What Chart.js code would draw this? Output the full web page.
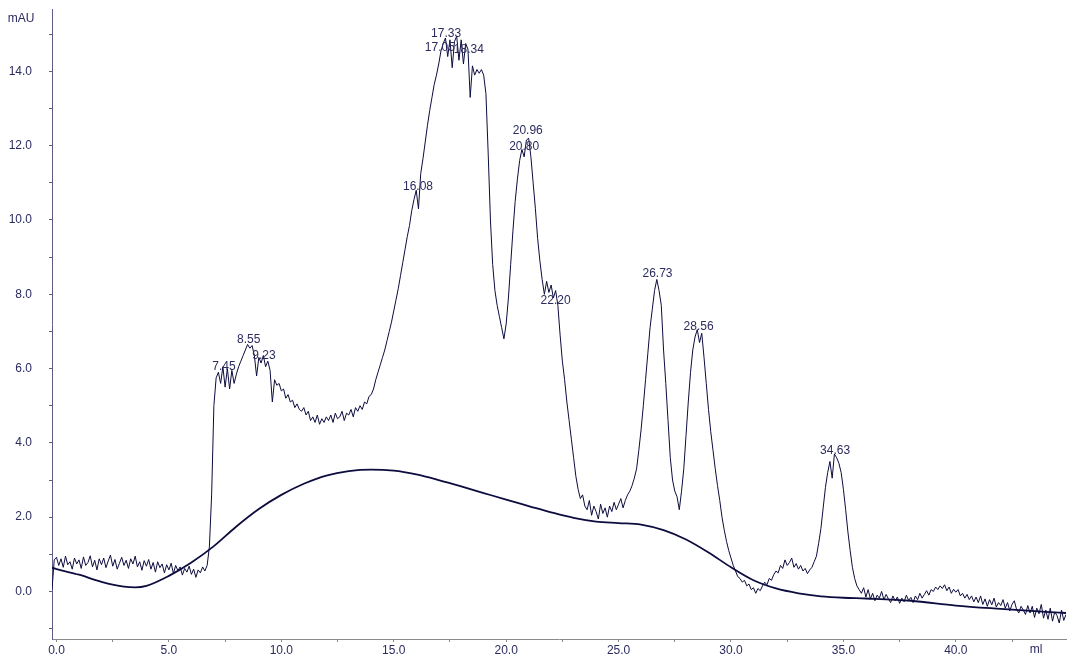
<!DOCTYPE html>
<html>
<head>
<meta charset="utf-8">
<script src="https://cdn.jsdelivr.net/npm/chart.js@4.4.1/dist/chart.umd.min.js"></script>
<style>
html,body{margin:0;padding:0;background:#ffffff;}
#wrap{width:1069px;height:656px;position:relative;}
canvas{display:block;}
</style>
</head>
<body>
<div id="wrap"><canvas id="c" width="1069" height="656"></canvas></div>
<script>
// UV trace, every 0.1 ml starting at -0.2 ml (mAU)
const traceStartMl = -0.2;
const traceStepMl = 0.1;
const traceMAU = [
  0.05, 0.85,
  0.92,0.70,0.88,0.65,0.95,0.72,0.80,0.60,0.90,0.74,
  0.85,0.62,0.93,0.70,0.78,0.96,0.66,0.84,0.58,0.88,
  0.72,0.90,0.64,0.82,0.98,0.68,0.86,0.60,0.76,0.92,
  0.70,0.84,0.62,0.88,0.74,0.95,0.66,0.80,0.57,0.83,
  0.68,0.86,0.60,0.78,0.52,0.80,0.64,0.74,0.50,0.72,
  0.58,0.76,0.48,0.70,0.56,0.66,0.44,0.62,0.52,0.68,
  0.46,0.60,0.38,0.58,0.50,0.66,0.55,0.70,1.20,2.60,
  5.00,5.75,5.90,5.60,6.05,5.50,6.00,5.45,5.95,5.60,
  5.85,6.05,6.20,6.35,6.50,6.65,6.55,6.62,6.35,5.80,
  6.30,6.15,6.35,6.05,6.20,5.95,5.10,5.70,5.55,5.60,
  5.40,5.45,5.20,5.30,5.10,5.15,4.95,5.05,4.90,4.85,
  4.95,4.75,4.85,4.60,4.70,4.55,4.75,4.50,4.65,4.55,
  4.70,4.60,4.75,4.55,4.80,4.65,4.70,4.85,4.60,4.80,
  4.75,4.90,4.70,4.95,4.85,5.00,4.90,5.10,5.05,5.25,
  5.30,5.45,5.70,5.90,6.10,6.30,6.50,6.75,7.00,7.25,
  7.55,7.85,8.15,8.50,8.85,9.20,9.55,9.85,10.25,10.55,
  10.80,10.30,11.25,11.65,12.10,12.55,12.95,13.30,13.65,13.90,
  14.20,14.55,14.75,14.90,14.40,14.85,14.10,14.80,14.95,14.30,
  14.85,14.20,14.75,14.60,13.30,14.15,13.90,14.05,13.95,14.05,
  13.90,13.40,11.80,10.00,8.80,8.10,7.70,7.40,7.10,6.80,
  7.20,7.90,8.80,9.70,10.50,11.10,11.60,11.90,11.70,12.15,
  12.20,11.70,11.00,10.30,9.50,8.90,8.40,8.00,8.35,8.05,
  8.25,7.90,8.10,7.70,6.90,6.20,5.70,5.10,4.60,4.10,
  3.60,3.10,2.75,2.50,2.60,2.30,2.20,2.45,2.05,2.30,
  2.15,1.95,2.35,2.10,2.25,2.00,2.30,2.15,2.40,2.20,
  2.35,2.50,2.25,2.45,2.60,2.70,2.85,3.05,3.30,3.80,
  4.35,5.00,5.70,6.40,7.10,7.60,8.10,8.40,8.10,7.70,
  6.50,5.60,4.60,3.60,3.00,2.70,2.55,2.20,2.70,3.30,
  4.20,5.10,5.90,6.50,6.85,7.05,6.70,6.95,6.30,5.60,
  4.90,4.30,3.80,3.30,2.85,2.45,2.00,1.65,1.35,1.10,
  0.90,0.70,0.55,0.40,0.35,0.25,0.30,0.15,0.20,0.05,
  0.10,-0.05,0.08,0.02,0.15,0.25,0.18,0.35,0.30,0.45,
  0.55,0.50,0.70,0.62,0.85,0.70,0.78,0.90,0.65,0.75,
  0.60,0.70,0.55,0.62,0.48,0.58,0.65,0.80,0.95,1.30,
  1.70,2.25,2.80,3.20,3.50,3.05,3.70,3.60,3.45,3.20,
  2.75,2.20,1.60,1.10,0.65,0.35,0.15,0.05,-0.05,0.10,
  -0.15,0.05,-0.20,-0.05,-0.25,-0.10,-0.18,0.00,-0.22,-0.08,
  -0.20,-0.30,-0.12,-0.25,-0.15,-0.32,-0.18,-0.28,-0.10,-0.24,
  -0.16,-0.30,-0.12,-0.22,-0.05,-0.18,-0.08,0.02,-0.10,0.05,
  0.00,0.12,0.05,0.15,0.08,0.18,0.02,0.12,-0.05,0.06,
  -0.02,0.05,-0.12,-0.05,-0.18,-0.08,-0.22,-0.12,-0.28,-0.15,
  -0.30,-0.12,-0.35,-0.20,-0.40,-0.22,-0.36,-0.18,-0.42,-0.30,
  -0.38,-0.22,-0.45,-0.30,-0.52,-0.35,-0.25,-0.48,-0.58,-0.40,
  -0.50,-0.62,-0.38,-0.58,-0.40,-0.70,-0.45,-0.60,-0.35,-0.72,
  -0.50,-0.75,-0.45,-0.80,-0.55,-0.65,-0.85,-0.50,-0.78,-0.62
];

// Fitted baseline curve (ml, mAU)
const baselineMl  = [-0.2, 0, 1, 2, 3, 3.5, 4, 5, 6, 7, 8, 9, 10, 11, 12, 13, 14, 15, 16, 17, 18, 19, 20, 21, 22, 23, 24, 25, 26, 27, 28, 29, 30, 31, 32, 33, 34, 35, 36, 38, 40, 42, 44, 44.9];
const baselineMAU = [0.64, 0.60, 0.45, 0.26, 0.13, 0.11, 0.15, 0.42, 0.78, 1.22, 1.75, 2.22, 2.60, 2.90, 3.12, 3.24, 3.28, 3.25, 3.15, 3.00, 2.83, 2.65, 2.47, 2.30, 2.13, 1.98, 1.88, 1.84, 1.80, 1.65, 1.40, 1.05, 0.65, 0.30, 0.08, -0.05, -0.13, -0.17, -0.19, -0.25, -0.38, -0.47, -0.55, -0.58];

// Peak annotations: retention volume (ml) and label height (mAU)
const peakMl     = [7.45, 8.55, 9.23, 16.08, 17.33, 17.05, 18.34, 20.80, 20.96, 22.20, 26.73, 28.56, 34.63];
const peakText   = ["7.45", "8.55", "9.23", "16.08", "17.33", "17.05", "18.34", "20.80", "20.96", "22.20", "26.73", "28.56", "34.63"];
const peakLabelY = [6.06, 6.78, 6.35, 10.91, 15.01, 14.63, 14.58, 11.96, 12.40, 7.82, 8.55, 7.12, 3.79];

// Axis ticks
const xTicks = [0, 2.5, 5, 7.5, 10, 12.5, 15, 17.5, 20, 22.5, 25, 27.5, 30, 32.5, 35, 37.5, 40, 42.5];
const xLabelled = [0, 5, 10, 15, 20, 25, 30, 35, 40];
const yTicks = [-1, 0, 1, 2, 3, 4, 5, 6, 7, 8, 9, 10, 11, 12, 13, 14, 15];
const yLabelled = [0, 2, 4, 6, 8, 10, 12, 14];
const xUnit = "ml";
const yUnit = "mAU";

const INK = '#0c0c3e';
const TEXT = '#2b2b5f';
const FONT = '"Liberation Sans", Arial, sans-serif';

const traceData = traceMAU.map((v, i) => ({ x: +(traceStartMl + i * traceStepMl).toFixed(2), y: v }));
const baseData = baselineMl.map((x, i) => ({ x: x, y: baselineMAU[i] }));

const annotate = {
  id: 'annotate',
  afterDatasetsDraw(chart) {
    const ctx = chart.ctx;
    const xs = chart.scales.x, ys = chart.scales.y;
    ctx.save();
    ctx.font = '12px ' + FONT;
    ctx.fillStyle = TEXT;
    ctx.textAlign = 'center';
    ctx.textBaseline = 'middle';
    peakMl.forEach((m, i) => {
      ctx.fillText(peakText[i], xs.getPixelForValue(m), ys.getPixelForValue(peakLabelY[i]));
    });
    ctx.fillText(yUnit, 21, 19);
    ctx.fillText(xUnit, 1036, 650);
    ctx.restore();
  }
};

function noPad(s) { s.paddingTop = 0; s.paddingBottom = 0; s.paddingLeft = 0; s.paddingRight = 0; }

new Chart(document.getElementById('c'), {
  type: 'line',
  data: {
    datasets: [
      { data: traceData, borderColor: INK, borderWidth: 1, pointRadius: 0, tension: 0, fill: false },
      { data: baseData, borderColor: INK, borderWidth: 1.8, pointRadius: 0, cubicInterpolationMode: 'monotone', fill: false }
    ]
  },
  options: {
    responsive: false,
    animation: false,
    devicePixelRatio: 1,
    layout: { padding: { top: 9, right: 3, left: 0, bottom: 0 } },
    plugins: { legend: { display: false }, tooltip: { enabled: false } },
    scales: {
      x: {
        type: 'linear', min: -0.2, max: 44.9,
        grid: { drawOnChartArea: false, drawTicks: true, tickLength: 3, color: '#8a8a8a' },
        border: { color: '#8a8a8a', width: 1 },
        ticks: {
          autoSkip: false, maxRotation: 0, padding: 1, color: TEXT,
          font: { family: FONT, size: 12 },
          callback: (v) => xLabelled.includes(v) ? v.toFixed(1) : ''
        },
        afterBuildTicks: (s) => { s.ticks = xTicks.map(v => ({ value: v })); },
        afterFit: (s) => { s.height = 17; noPad(s); }
      },
      y: {
        type: 'linear', min: -1.28, max: 15.68,
        grid: { drawOnChartArea: false, drawTicks: true, tickLength: 3, color: '#5e5e86' },
        border: { color: '#5e5e86', width: 1 },
        ticks: {
          autoSkip: false, padding: 17, color: TEXT,
          font: { family: FONT, size: 12 },
          callback: (v) => yLabelled.includes(v) ? v.toFixed(1) : ''
        },
        afterBuildTicks: (s) => { s.ticks = yTicks.map(v => ({ value: v })); },
        afterFit: (s) => { s.width = 52; noPad(s); }
      }
    }
  },
  plugins: [annotate]
});
</script>
</body>
</html>
